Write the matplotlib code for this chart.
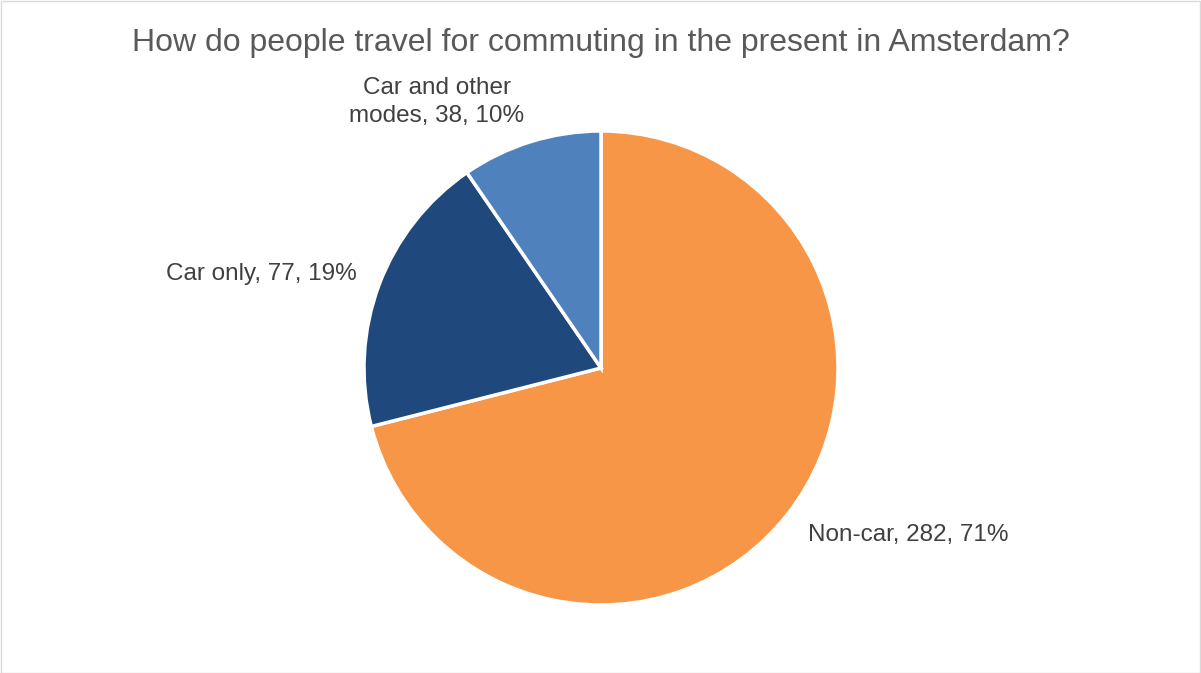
import matplotlib
matplotlib.use("Agg")
import matplotlib.pyplot as plt
from matplotlib.patches import Rectangle

categories = ["Non-car", "Car only", "Car and other\nmodes"]
values = [282, 77, 38]
percent_labels = ["71%", "19%", "10%"]
colors = ["#F79646", "#1F497D", "#4F81BD"]
title = "How do people travel for commuting in the present in Amsterdam?"

W, H = 1201, 673
fig = plt.figure(figsize=(W / 100, H / 100), dpi=100)
ax = fig.add_axes([0, 0, 1, 1])
ax.set_xlim(0, W)
ax.set_ylim(0, H)
ax.set_aspect("equal")
ax.axis("off")

cx, cy, r = 601, H - 368, 237
wedges, _ = ax.pie(values, colors=colors, startangle=90, counterclock=False,
                   center=(cx, cy), radius=r, frame=True,
                   wedgeprops=dict(edgecolor="white", linewidth=2.5))
ax.set_xlim(0, W)
ax.set_ylim(0, H)
ax.axis("off")

font = "Liberation Sans"
ax.text(W / 2, H - 43, title, ha="center", va="center", fontsize=23,
        color="#595959", family=font)

lbl = [f"{c}, {v}, {p}" for c, v, p in zip(categories, values, percent_labels)]
ax.text(808, H - 535, lbl[0], ha="left", va="center", fontsize=17.5,
        color="#404040", family=font)
ax.text(357, H - 274, lbl[1], ha="right", va="center", fontsize=17.5,
        color="#404040", family=font)
ax.text(437, H - 102, lbl[2], ha="center", va="center", fontsize=17.5,
        color="#404040", family=font, linespacing=1.4)

fig.patches.append(Rectangle((0.5 / W, 0.5 / H), 1 - 1.5 / W, 1 - 1.5 / H,
                             transform=fig.transFigure, fill=False,
                             edgecolor="#D9D9D9", linewidth=1))
fig.savefig("out.png", dpi=100)
